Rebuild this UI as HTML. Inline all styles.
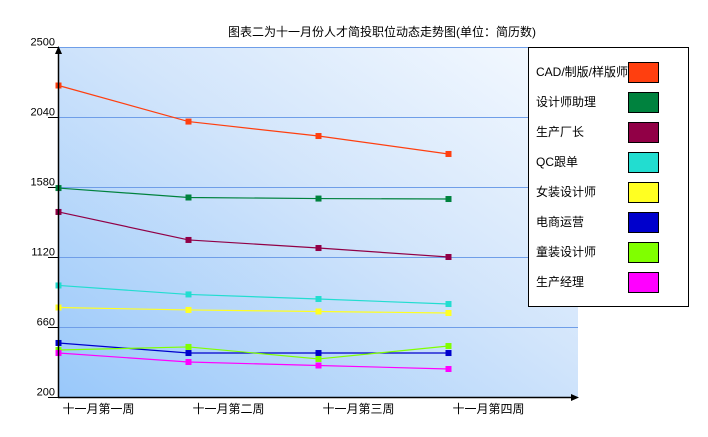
<!DOCTYPE html>
<html><head><meta charset="utf-8"><style>
body{margin:0;background:#fff;}
svg{display:block;font-family:"Liberation Sans","Noto Sans CJK SC","WenQuanYi Zen Hei",sans-serif;}
</style></head><body>
<svg id="chart" width="708" height="437" viewBox="0 0 708 437">
<defs>
<linearGradient id="bg" x1="0" y1="1" x2="1" y2="0">
<stop offset="0" stop-color="#99c8fa"/><stop offset="0.55" stop-color="#d2e5fb"/><stop offset="1" stop-color="#f6faff"/>
</linearGradient>
</defs>
<text x="382" y="36" font-size="12" text-anchor="middle" fill="#000">图表二为十一月份人才简投职位动态走势图(单位：简历数)</text>
<rect x="58" y="47" width="520" height="350" fill="url(#bg)"/>
<g id="grid"></g>
<g id="series"></g>
<line x1="58.5" y1="50" x2="58.5" y2="397" stroke="#000" stroke-width="1.5"/>
<polygon points="58.5,46 55,54 62,54" fill="#000"/>
<line x1="58" y1="397.5" x2="572" y2="397.5" stroke="#000" stroke-width="1.5"/>
<polygon points="579,397.5 571,394 571,401" fill="#000"/>
<g id="xlabels"></g>
<g>
<rect x="528.5" y="47.5" width="160" height="259" fill="#fff" stroke="#000"/>
<g id="legend"></g>
</g>
</svg>
<script>
const categories = ["十一月第一周","十一月第二周","十一月第三周","十一月第四周"];
const yTicks = [200,660,1120,1580,2040,2500];
const seriesNames = ["CAD/制版/样版师","设计师助理","生产厂长","QC跟单","女装设计师","电商运营","童装设计师","生产经理"];
const seriesColors = ["#ff3f0f","#00823e","#910046","#22ddd0","#ffff22","#0000cc","#80ff00","#ff00ff"];
const sCAD = [2247,2010,1915,1797];
const sAssist = [1573,1511,1504,1501];
const sFactory = [1416,1232,1179,1120];
const sQC = [933,874,844,811];
const sWomen = [788,772,762,752];
const sEcom = [555,489,489,489];
const sKids = [509,529,450,535];
const sProd = [489,430,407,384];
const seriesValues = [sCAD,sAssist,sFactory,sQC,sWomen,sEcom,sKids,sProd];

const NS="http://www.w3.org/2000/svg";
const yMin=200,yMax=2500,plotTop=47,plotBot=397;
function yScale(v){return plotBot-(v-yMin)/(yMax-yMin)*(plotBot-plotTop);}
function xScale(i){return 58.5+i*130;}
function mk(tag,attrs,parent){const e=document.createElementNS(NS,tag);for(const k in attrs)e.setAttribute(k,attrs[k]);parent.appendChild(e);return e;}

const grid=document.getElementById('grid');
yTicks.forEach(t=>{
  const y=Math.round(yScale(t))+0.5;
  if(t!==yMin){
    const l=mk('line',{x1:58,y1:y,x2:578,y2:y,stroke:'#6f9ee8','stroke-width':1},grid);
    
    
  }
  const tk=mk('line',{x1:48,y1:y,x2:58,y2:y,stroke:'#000','stroke-width':1},grid);
  
  
  const tx=mk('text',{x:55,y:y-2,'font-size':11,'text-anchor':'end',fill:'#000'},grid);
  tx.textContent=t;
  
  
});

const xl=document.getElementById('xlabels');
categories.forEach((c,i)=>{
  const t=mk('text',{x:xScale(i)+40,y:413,'font-size':12,'text-anchor':'middle',fill:'#000'},xl);
  t.textContent=c;
  
  
});

const sg=document.getElementById('series');
seriesValues.forEach((vals,si)=>{
  const g=mk('g',{},sg);
  
  
  const pts=vals.map((v,i)=>xScale(i)+','+yScale(v)).join(' ');
  const pl=mk('polyline',{points:pts,fill:'none',stroke:seriesColors[si],'stroke-width':1.2},g);
  
  
  vals.forEach((v,i)=>{
    const r=mk('rect',{x:xScale(i)-3,y:yScale(v)-3,width:6,height:6,fill:seriesColors[si]},g);
    
    
  });
});

const lg=document.getElementById('legend');
seriesNames.forEach((n,i)=>{
  const y=62+i*30;
  const t=mk('text',{x:536,y:y+14,'font-size':12,fill:'#000'},lg);
  t.textContent=n;
  
  
  const r=mk('rect',{x:628.5,y:y+0.5,width:30,height:20,fill:seriesColors[i],stroke:'#000'},lg);
  
  
});
</script>
</body></html>
